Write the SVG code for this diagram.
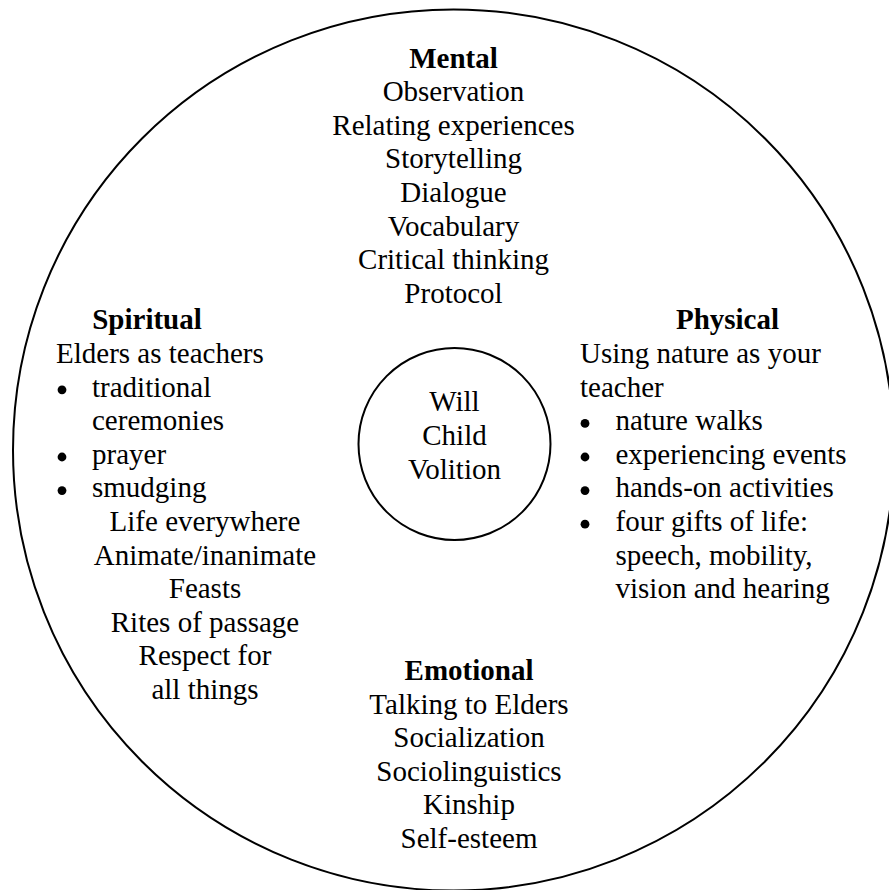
<svg xmlns="http://www.w3.org/2000/svg" width="889" height="890" viewBox="0 0 889 890">
<style>
  text { font-family: "Liberation Serif", "Times New Roman", serif; font-size: 29px; fill: #000; }
  .h { font-weight: bold; }
  .c { text-anchor: middle; }
  .dot { fill: #000; }
  .ring { fill: none; stroke: #000; stroke-width: 2; }
</style>
<defs>
  <circle id="bullet" class="dot" r="4.4"/>
</defs>
<rect width="889" height="890" fill="#fff"/>
<g id="outer-circle">
  <circle class="ring" cx="453.5" cy="450" r="440.5"/>
</g>
<g id="connectors"></g>
<g id="mental">
  <text class="h c" x="453.5" y="67.5">Mental</text>
  <text class="c" x="453.5" y="101.1">Observation</text>
  <text class="c" x="453.5" y="134.7">Relating experiences</text>
  <text class="c" x="453.5" y="168.3">Storytelling</text>
  <text class="c" x="453.5" y="201.9">Dialogue</text>
  <text class="c" x="453.5" y="235.5">Vocabulary</text>
  <text class="c" x="453.5" y="269.1">Critical thinking</text>
  <text class="c" x="453.5" y="302.7">Protocol</text>
</g>
<g id="spiritual">
  <text class="h c" x="147" y="329.3">Spiritual</text>
  <text x="56" y="362.9">Elders as teachers</text>
  <use href="#bullet" x="62" y="389.8"/>
  <text x="92" y="396.5">traditional</text>
  <text x="92" y="430.1">ceremonies</text>
  <use href="#bullet" x="62" y="457"/>
  <text x="92" y="463.7">prayer</text>
  <use href="#bullet" x="62" y="490.6"/>
  <text x="92" y="497.3">smudging</text>
  <text class="c" x="205" y="530.9">Life everywhere</text>
  <text class="c" x="205" y="564.5">Animate/inanimate</text>
  <text class="c" x="205" y="598.1">Feasts</text>
  <text class="c" x="205" y="631.7">Rites of passage</text>
  <text class="c" x="205" y="665.3">Respect for</text>
  <text class="c" x="205" y="698.9">all things</text>
</g>
<g id="center">
  <circle class="ring" cx="454.5" cy="444" r="96"/>
  <text class="c" x="454.5" y="411">Will</text>
  <text class="c" x="454.5" y="445">Child</text>
  <text class="c" x="454.5" y="479">Volition</text>
</g>
<g id="physical">
  <text class="h c" x="727.5" y="329.3">Physical</text>
  <text x="580" y="362.9">Using nature as your</text>
  <text x="580" y="396.5">teacher</text>
  <use href="#bullet" x="585" y="423.4"/>
  <text x="615.5" y="430.1">nature walks</text>
  <use href="#bullet" x="585" y="457"/>
  <text x="615.5" y="463.7">experiencing events</text>
  <use href="#bullet" x="585" y="490.6"/>
  <text x="615.5" y="497.3">hands-on activities</text>
  <use href="#bullet" x="585" y="524.2"/>
  <text x="615.5" y="530.9">four gifts of life:</text>
  <text x="615.5" y="564.5">speech, mobility,</text>
  <text x="615.5" y="598.1">vision and hearing</text>
</g>
<g id="emotional">
  <text class="h c" x="469" y="680">Emotional</text>
  <text class="c" x="469" y="713.6">Talking to Elders</text>
  <text class="c" x="469" y="747.2">Socialization</text>
  <text class="c" x="469" y="780.8">Sociolinguistics</text>
  <text class="c" x="469" y="814.4">Kinship</text>
  <text class="c" x="469" y="848">Self-esteem</text>
</g>
</svg>
